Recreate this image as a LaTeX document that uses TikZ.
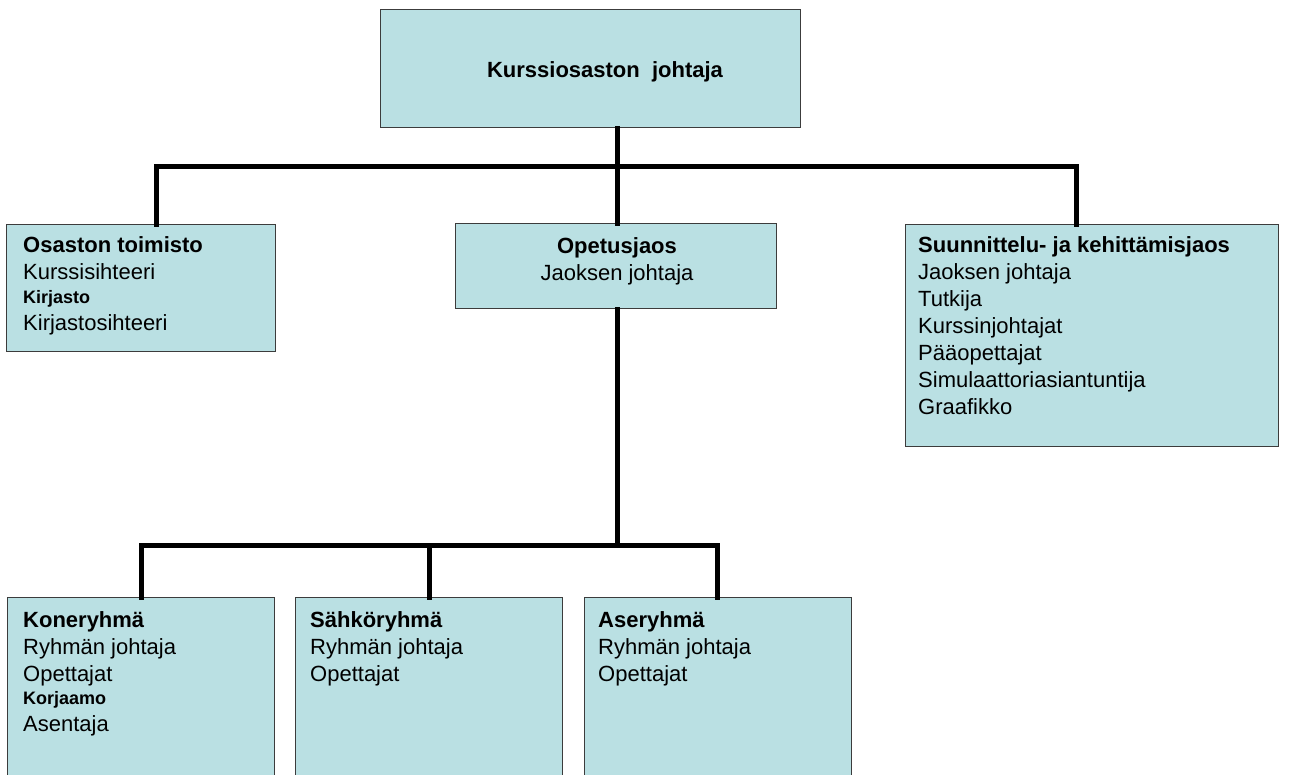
\documentclass[tikz,border=0pt]{standalone}
\usepackage{fontspec}
\setmainfont{Liberation Sans}
\definecolor{boxfill}{RGB}{186,224,227}
\definecolor{boxline}{RGB}{60,60,60}
\tikzset{
  orgbox/.style={draw=boxline, line width=1pt, fill=boxfill, rectangle, inner sep=0pt, anchor=north west},
  conn/.style={line width=5pt, black, line join=miter, line cap=rect},
  boxtext/.style={anchor=north west, inner sep=0pt, align=left, font=\fontsize{22}{27}\selectfont},
  ctext/.style={anchor=north, inner sep=0pt, align=center, font=\fontsize{22}{27}\selectfont}
}
\newcommand{\subhead}[1]{{\fontsize{18}{27}\selectfont\bfseries #1}}
\begin{document}
\begin{tikzpicture}[x=1pt,y=-1pt]
\useasboundingbox (0,0) rectangle (1289,774);
\begin{scope}
\clip (0,0) rectangle (1289,774);
% boxes
\node[orgbox, minimum width=420pt, minimum height=118pt] (top) at (380,9) {};
\node[orgbox, minimum width=269pt, minimum height=127pt] (osa) at (6,224) {};
\node[orgbox, minimum width=321pt, minimum height=85pt] (ope) at (455,223) {};
\node[orgbox, minimum width=373pt, minimum height=222pt] (suu) at (905,224) {};
\node[orgbox, minimum width=267pt, minimum height=200pt] (kone) at (7,597) {};
\node[orgbox, minimum width=267pt, minimum height=200pt] (sahko) at (295,597) {};
\node[orgbox, minimum width=267pt, minimum height=200pt] (ase) at (584,597) {};
% connectors
\coordinate (b1) at (156,166);
\coordinate (b2) at (1076,166);
\coordinate (c1) at (141,545);
\coordinate (c2) at (429,545);
\coordinate (c3) at (717,545);
\coordinate (c0) at (617,545);
\draw[conn] (top.south -| 617,0) -- (ope.north -| 617,0);
\draw[conn] (osa.north -| b1) -- (b1) -- (b2) -- (suu.north -| b2);
\draw[conn] (ope.south -| c0) -- (c0);
\draw[conn] (kone.north -| c1) -- (c1) -- (c3) -- (ase.north -| c3);
\draw[conn] (c2) -- (sahko.north -| c2);
\end{scope}
% texts
\node[anchor=base, inner sep=0pt, font=\fontsize{22}{27}\selectfont\bfseries] (toptxt) at (605,77) {Kurssiosaston\ \ johtaja};
\node[boxtext] (osatxt) at (23,233.1) {\strut\textbf{Osaston toimisto}\\Kurssisihteeri\\[-3pt]\subhead{Kirjasto}\\Kirjastosihteeri};
\node[ctext] (opetxt) at (617,234.1) {\strut\textbf{Opetusjaos}\\Jaoksen johtaja};
\node[boxtext] (suutxt) at (918,233.1) {\strut\textbf{Suunnittelu- ja kehittämisjaos}\\Jaoksen johtaja\\Tutkija\\Kurssinjohtajat\\Pääopettajat\\Simulaattoriasiantuntija\\Graafikko};
\node[boxtext] (konetxt) at (23,608.1) {\strut\textbf{Koneryhmä}\\Ryhmän johtaja\\Opettajat\\[-4pt]\subhead{Korjaamo}\\Asentaja};
\node[boxtext] (sahkotxt) at (310,608.1) {\strut\textbf{Sähköryhmä}\\Ryhmän johtaja\\Opettajat};
\node[boxtext] (asetxt) at (598,608.1) {\strut\textbf{Aseryhmä}\\Ryhmän johtaja\\Opettajat};
\end{tikzpicture}
\end{document}
